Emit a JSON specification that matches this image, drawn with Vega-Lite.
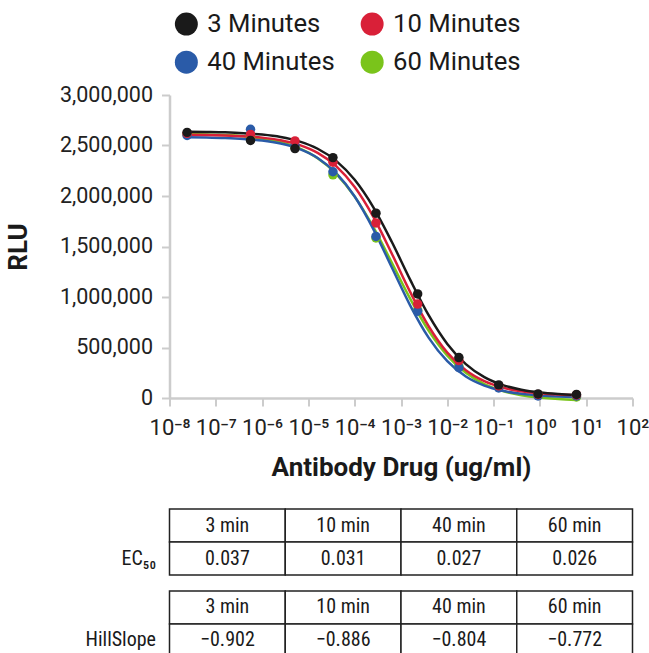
{
  "$schema": "https://vega.github.io/schema/vega-lite/v6.json",
  "padding": {"left": 4.5, "top": 11, "right": 0, "bottom": 0},
  "background": "white",
  "config": {
    "font": "Roboto",
    "view": {"stroke": null},
    "concat": {"spacing": 28},
    "axis": {"labelColor": "#222222", "titleColor": "#1a1a1a", "grid": false}
  },
  "datasets": {
    "points": [
      {"series": "60 Minutes", "conc": 2.40e-8, "rlu": 2610000},
      {"series": "60 Minutes", "conc": 5.62e-7, "rlu": 2600000},
      {"series": "60 Minutes", "conc": 5.13e-6, "rlu": 2480000},
      {"series": "60 Minutes", "conc": 3.39e-5, "rlu": 2210000},
      {"series": "60 Minutes", "conc": 2.88e-4, "rlu": 1584000},
      {"series": "60 Minutes", "conc": 2.29e-3, "rlu": 870000},
      {"series": "60 Minutes", "conc": 0.0178, "rlu": 314000},
      {"series": "60 Minutes", "conc": 0.129, "rlu": 110000},
      {"series": "60 Minutes", "conc": 0.912, "rlu": 30000},
      {"series": "60 Minutes", "conc": 6.17, "rlu": 10000},
      {"series": "40 Minutes", "conc": 2.40e-8, "rlu": 2600000},
      {"series": "40 Minutes", "conc": 5.62e-7, "rlu": 2660000},
      {"series": "40 Minutes", "conc": 5.13e-6, "rlu": 2500000},
      {"series": "40 Minutes", "conc": 3.39e-5, "rlu": 2240000},
      {"series": "40 Minutes", "conc": 2.88e-4, "rlu": 1600000},
      {"series": "40 Minutes", "conc": 2.29e-3, "rlu": 860000},
      {"series": "40 Minutes", "conc": 0.0178, "rlu": 300000},
      {"series": "40 Minutes", "conc": 0.129, "rlu": 100000},
      {"series": "40 Minutes", "conc": 0.912, "rlu": 20000},
      {"series": "40 Minutes", "conc": 6.17, "rlu": 20000},
      {"series": "10 Minutes", "conc": 2.40e-8, "rlu": 2620000},
      {"series": "10 Minutes", "conc": 5.62e-7, "rlu": 2610000},
      {"series": "10 Minutes", "conc": 5.13e-6, "rlu": 2545000},
      {"series": "10 Minutes", "conc": 3.39e-5, "rlu": 2334000},
      {"series": "10 Minutes", "conc": 2.88e-4, "rlu": 1733000},
      {"series": "10 Minutes", "conc": 2.29e-3, "rlu": 930000},
      {"series": "10 Minutes", "conc": 0.0178, "rlu": 370000},
      {"series": "10 Minutes", "conc": 0.129, "rlu": 120000},
      {"series": "10 Minutes", "conc": 0.912, "rlu": 35000},
      {"series": "10 Minutes", "conc": 6.17, "rlu": 30000},
      {"series": "3 Minutes", "conc": 2.40e-8, "rlu": 2630000},
      {"series": "3 Minutes", "conc": 5.62e-7, "rlu": 2550000},
      {"series": "3 Minutes", "conc": 5.13e-6, "rlu": 2470000},
      {"series": "3 Minutes", "conc": 3.39e-5, "rlu": 2380000},
      {"series": "3 Minutes", "conc": 2.88e-4, "rlu": 1830000},
      {"series": "3 Minutes", "conc": 2.29e-3, "rlu": 1030000},
      {"series": "3 Minutes", "conc": 0.0178, "rlu": 400000},
      {"series": "3 Minutes", "conc": 0.129, "rlu": 130000},
      {"series": "3 Minutes", "conc": 0.912, "rlu": 40000},
      {"series": "3 Minutes", "conc": 6.17, "rlu": 35000}
    ],
    "curves": [
      {"series": "60 Minutes", "conc": 2.40e-8, "rlu": 2614000},
      {"series": "60 Minutes", "conc": 6.31e-8, "rlu": 2610000},
      {"series": "60 Minutes", "conc": 1.585e-7, "rlu": 2603000},
      {"series": "60 Minutes", "conc": 3.981e-7, "rlu": 2591000},
      {"series": "60 Minutes", "conc": 1e-6, "rlu": 2569000},
      {"series": "60 Minutes", "conc": 2.512e-6, "rlu": 2533000},
      {"series": "60 Minutes", "conc": 6.31e-6, "rlu": 2473000},
      {"series": "60 Minutes", "conc": 1.585e-5, "rlu": 2374000},
      {"series": "60 Minutes", "conc": 3.981e-5, "rlu": 2220000},
      {"series": "60 Minutes", "conc": 1e-4, "rlu": 1994000},
      {"series": "60 Minutes", "conc": 2.512e-4, "rlu": 1694000},
      {"series": "60 Minutes", "conc": 6.31e-4, "rlu": 1341000},
      {"series": "60 Minutes", "conc": 1.585e-3, "rlu": 981000},
      {"series": "60 Minutes", "conc": 3.981e-3, "rlu": 664000},
      {"series": "60 Minutes", "conc": 0.01, "rlu": 419000},
      {"series": "60 Minutes", "conc": 0.02512, "rlu": 249000},
      {"series": "60 Minutes", "conc": 0.0631, "rlu": 138000},
      {"series": "60 Minutes", "conc": 0.1585, "rlu": 69000},
      {"series": "60 Minutes", "conc": 0.3981, "rlu": 28000},
      {"series": "60 Minutes", "conc": 1, "rlu": 4000},
      {"series": "60 Minutes", "conc": 2.512, "rlu": -11000},
      {"series": "60 Minutes", "conc": 6.17, "rlu": -19000},
      {"series": "40 Minutes", "conc": 2.40e-8, "rlu": 2582000},
      {"series": "40 Minutes", "conc": 6.31e-8, "rlu": 2579000},
      {"series": "40 Minutes", "conc": 1.585e-7, "rlu": 2574000},
      {"series": "40 Minutes", "conc": 3.981e-7, "rlu": 2565000},
      {"series": "40 Minutes", "conc": 1e-6, "rlu": 2549000},
      {"series": "40 Minutes", "conc": 2.512e-6, "rlu": 2519000},
      {"series": "40 Minutes", "conc": 6.31e-6, "rlu": 2467000},
      {"series": "40 Minutes", "conc": 1.585e-5, "rlu": 2377000},
      {"series": "40 Minutes", "conc": 3.981e-5, "rlu": 2226000},
      {"series": "40 Minutes", "conc": 1e-4, "rlu": 1995000},
      {"series": "40 Minutes", "conc": 2.512e-4, "rlu": 1675000},
      {"series": "40 Minutes", "conc": 6.31e-4, "rlu": 1295000},
      {"series": "40 Minutes", "conc": 1.585e-3, "rlu": 915000},
      {"series": "40 Minutes", "conc": 3.981e-3, "rlu": 595000},
      {"series": "40 Minutes", "conc": 0.01, "rlu": 364000},
      {"series": "40 Minutes", "conc": 0.02512, "rlu": 213000},
      {"series": "40 Minutes", "conc": 0.0631, "rlu": 123000},
      {"series": "40 Minutes", "conc": 0.1585, "rlu": 71000},
      {"series": "40 Minutes", "conc": 0.3981, "rlu": 41000},
      {"series": "40 Minutes", "conc": 1, "rlu": 25000},
      {"series": "40 Minutes", "conc": 2.512, "rlu": 16000},
      {"series": "40 Minutes", "conc": 6.17, "rlu": 11000},
      {"series": "10 Minutes", "conc": 2.40e-8, "rlu": 2607000},
      {"series": "10 Minutes", "conc": 6.31e-8, "rlu": 2605000},
      {"series": "10 Minutes", "conc": 1.585e-7, "rlu": 2600000},
      {"series": "10 Minutes", "conc": 3.981e-7, "rlu": 2592000},
      {"series": "10 Minutes", "conc": 1e-6, "rlu": 2578000},
      {"series": "10 Minutes", "conc": 2.512e-6, "rlu": 2552000},
      {"series": "10 Minutes", "conc": 6.31e-6, "rlu": 2506000},
      {"series": "10 Minutes", "conc": 1.585e-5, "rlu": 2427000},
      {"series": "10 Minutes", "conc": 3.981e-5, "rlu": 2295000},
      {"series": "10 Minutes", "conc": 1e-4, "rlu": 2088000},
      {"series": "10 Minutes", "conc": 2.512e-4, "rlu": 1795000},
      {"series": "10 Minutes", "conc": 6.31e-4, "rlu": 1431000},
      {"series": "10 Minutes", "conc": 1.585e-3, "rlu": 1048000},
      {"series": "10 Minutes", "conc": 3.981e-3, "rlu": 708000},
      {"series": "10 Minutes", "conc": 0.01, "rlu": 449000},
      {"series": "10 Minutes", "conc": 0.02512, "rlu": 275000},
      {"series": "10 Minutes", "conc": 0.0631, "rlu": 167000},
      {"series": "10 Minutes", "conc": 0.1585, "rlu": 103000},
      {"series": "10 Minutes", "conc": 0.3981, "rlu": 66000},
      {"series": "10 Minutes", "conc": 1, "rlu": 46000},
      {"series": "10 Minutes", "conc": 2.512, "rlu": 34000},
      {"series": "10 Minutes", "conc": 6.17, "rlu": 28000},
      {"series": "3 Minutes", "conc": 2.40e-8, "rlu": 2637000},
      {"series": "3 Minutes", "conc": 6.31e-8, "rlu": 2634000},
      {"series": "3 Minutes", "conc": 1.585e-7, "rlu": 2630000},
      {"series": "3 Minutes", "conc": 3.981e-7, "rlu": 2622000},
      {"series": "3 Minutes", "conc": 1e-6, "rlu": 2608000},
      {"series": "3 Minutes", "conc": 2.512e-6, "rlu": 2584000},
      {"series": "3 Minutes", "conc": 6.31e-6, "rlu": 2541000},
      {"series": "3 Minutes", "conc": 1.585e-5, "rlu": 2468000},
      {"series": "3 Minutes", "conc": 3.981e-5, "rlu": 2348000},
      {"series": "3 Minutes", "conc": 1e-4, "rlu": 2160000},
      {"series": "3 Minutes", "conc": 2.512e-4, "rlu": 1890000},
      {"series": "3 Minutes", "conc": 6.31e-4, "rlu": 1547000},
      {"series": "3 Minutes", "conc": 1.585e-3, "rlu": 1169000},
      {"series": "3 Minutes", "conc": 3.981e-3, "rlu": 817000},
      {"series": "3 Minutes", "conc": 0.01, "rlu": 535000},
      {"series": "3 Minutes", "conc": 0.02512, "rlu": 336000},
      {"series": "3 Minutes", "conc": 0.0631, "rlu": 207000},
      {"series": "3 Minutes", "conc": 0.1585, "rlu": 128000},
      {"series": "3 Minutes", "conc": 0.3981, "rlu": 82000},
      {"series": "3 Minutes", "conc": 1, "rlu": 55000},
      {"series": "3 Minutes", "conc": 2.512, "rlu": 40000},
      {"series": "3 Minutes", "conc": 6.17, "rlu": 31000}
    ],
    "table": [
      {"table": "EC₅₀", "row": "h", "col": "3 min", "label": "3 min"},
      {"table": "EC₅₀", "row": "h", "col": "10 min", "label": "10 min"},
      {"table": "EC₅₀", "row": "h", "col": "40 min", "label": "40 min"},
      {"table": "EC₅₀", "row": "h", "col": "60 min", "label": "60 min"},
      {"table": "EC₅₀", "row": "v", "col": "3 min", "label": "0.037"},
      {"table": "EC₅₀", "row": "v", "col": "10 min", "label": "0.031"},
      {"table": "EC₅₀", "row": "v", "col": "40 min", "label": "0.027"},
      {"table": "EC₅₀", "row": "v", "col": "60 min", "label": "0.026"},
      {"table": "HillSlope", "row": "h", "col": "3 min", "label": "3 min"},
      {"table": "HillSlope", "row": "h", "col": "10 min", "label": "10 min"},
      {"table": "HillSlope", "row": "h", "col": "40 min", "label": "40 min"},
      {"table": "HillSlope", "row": "h", "col": "60 min", "label": "60 min"},
      {"table": "HillSlope", "row": "v", "col": "3 min", "label": "−0.902"},
      {"table": "HillSlope", "row": "v", "col": "10 min", "label": "−0.886"},
      {"table": "HillSlope", "row": "v", "col": "40 min", "label": "−0.804"},
      {"table": "HillSlope", "row": "v", "col": "60 min", "label": "−0.772"}
    ]
  },
  "vconcat": [
    {
      "width": 463,
      "height": 303,
      "encoding": {
        "x": {
          "field": "conc", "type": "quantitative",
          "scale": {"type": "log", "domain": [1e-8, 100], "nice": false},
          "axis": {
            "values": [1e-8, 1e-7, 1e-6, 1e-5, 1e-4, 1e-3, 1e-2, 1e-1, 1, 10, 100],
            "labelExpr": "['10⁻⁸','10⁻⁷','10⁻⁶','10⁻⁵','10⁻⁴','10⁻³','10⁻²','10⁻¹','10⁰','10¹','10²'][round(log(datum.value)/LN10)+8]",
            "title": "Antibody Drug (ug/ml)",
            "titleFontSize": 26, "titleFontWeight": "bold", "titlePadding": 16,
            "labelFontSize": 22, "labelPadding": 11, "labelFlush": false, "labelOverlap": false,
            "tickSize": 8, "tickWidth": 2, "tickColor": "#cccccc",
            "domainColor": "#cccccc", "domainWidth": 2.5
          }
        },
        "y": {
          "field": "rlu", "type": "quantitative",
          "scale": {"domain": [0, 3000000], "nice": false},
          "axis": {
            "values": [0, 500000, 1000000, 1500000, 2000000, 2500000, 3000000],
            "format": ",d",
            "title": "RLU",
            "titleFontSize": 26, "titleFontWeight": "bold", "titlePadding": 28,
            "labelFontSize": 21.5, "labelPadding": 9,
            "tickSize": 8, "tickWidth": 2, "tickColor": "#cccccc",
            "domainColor": "#cccccc", "domainWidth": 2.5
          }
        },
        "color": {
          "field": "series", "type": "nominal",
          "scale": {
            "domain": ["3 Minutes", "10 Minutes", "40 Minutes", "60 Minutes"],
            "range": ["#1a1a1a", "#d92038", "#2a5ba8", "#7ac41b"]
          },
          "legend": {
            "orient": "none", "legendX": 4, "legendY": -84,
            "direction": "horizontal", "columns": 2,
            "title": null, "padding": 0,
            "symbolType": "circle", "symbolSize": 529, "symbolStrokeWidth": 0, "symbolOpacity": 1,
            "symbolFillColor": "#000000",
            "labelFontSize": 25.7, "labelColor": "#1a1a1a", "labelOffset": 8,
            "columnPadding": 23.8, "rowPadding": 11.3
          }
        }
      },
      "layer": [
        {
          "data": {"name": "curves"},
          "mark": {"type": "line", "strokeWidth": 2.5, "interpolate": "monotone"}
        },
        {
          "data": {"name": "points"},
          "mark": {"type": "circle", "size": 90, "opacity": 1}
        }
      ]
    },
    {
      "data": {"name": "table"},
      "width": 463,
      "height": 148,
      "encoding": {
        "x": {
          "field": "col", "type": "nominal",
          "sort": ["3 min", "10 min", "40 min", "60 min"],
          "scale": {"paddingInner": 0, "paddingOuter": 0},
          "axis": null
        },
        "y": {
          "field": "table", "type": "nominal",
          "sort": ["EC₅₀", "HillSlope"],
          "scale": {"paddingInner": 0.195, "paddingOuter": 0},
          "axis": {
            "title": null, "domain": false, "ticks": false,
            "labelFontSize": 20, "labelPadding": 14, "labelOffset": 16.5,
            "labelFont": "Roboto Condensed, Liberation Sans Narrow, DejaVu Sans Condensed, Roboto",
            "labelColor": "#1a1a1a"
          }
        },
        "yOffset": {
          "field": "row", "type": "nominal",
          "sort": ["h", "v"],
          "scale": {"paddingInner": 0, "paddingOuter": 0}
        }
      },
      "layer": [
        {"mark": {"type": "rect", "fill": "white", "stroke": "#222222", "strokeWidth": 1.5}},
        {
          "mark": {
            "type": "text", "fontSize": 20, "color": "#1a1a1a",
            "font": "Roboto Condensed, Liberation Sans Narrow, DejaVu Sans Condensed, Roboto"
          },
          "encoding": {"text": {"field": "label"}}
        }
      ]
    }
  ]
}
